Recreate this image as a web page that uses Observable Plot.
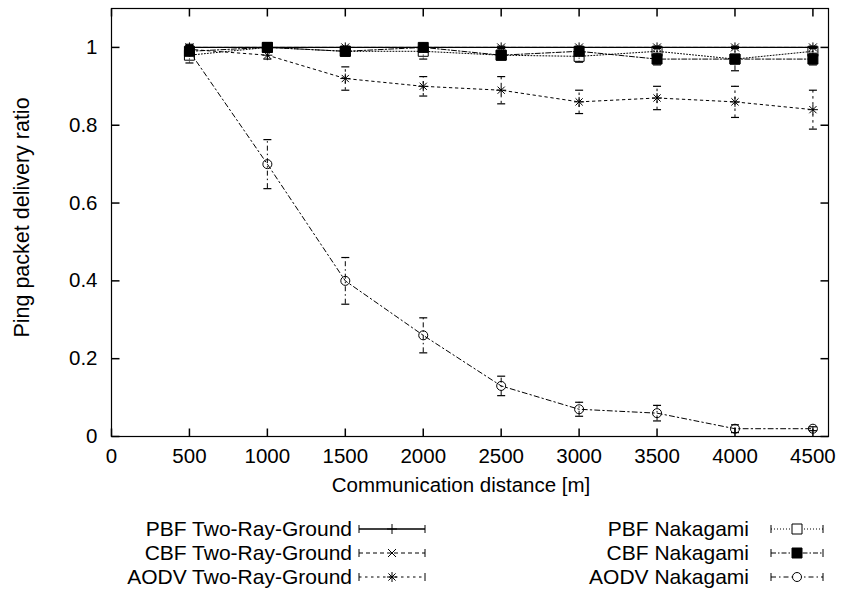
<!DOCTYPE html>
<html><head><meta charset="utf-8">
<script src="https://cdn.jsdelivr.net/npm/d3@7"></script>
<script src="https://cdn.jsdelivr.net/npm/@observablehq/plot@0.6"></script>
<style>
body{margin:0;background:#fff;}
#chart{width:841px;}
svg{display:block;}
</style>
</head><body><div id="chart"></div>
<script>
// ---- data ----
const distances = [500, 1000, 1500, 2000, 2500, 3000, 3500, 4000, 4500];
const xTicks = [0, 500, 1000, 1500, 2000, 2500, 3000, 3500, 4000, 4500];
const yTicks = [0, 0.2, 0.4, 0.6, 0.8, 1];
const seriesNames = ["PBF Two-Ray-Ground", "CBF Two-Ray-Ground", "AODV Two-Ray-Ground",
                     "PBF Nakagami", "CBF Nakagami", "AODV Nakagami"];
const pbfTrg     = [1.00, 1.00, 1.00, 1.00, 1.00, 1.00, 1.00, 1.00, 1.00];
const pbfTrgErr  = [0.005, 0, 0, 0, 0, 0, 0, 0, 0];
const cbfTrg     = [1.00, 1.00, 1.00, 1.00, 1.00, 1.00, 1.00, 1.00, 1.00];
const cbfTrgErr  = [0.008, 0.003, 0.003, 0.003, 0.003, 0.003, 0.003, 0.003, 0.003];
const aodvTrg    = [0.995, 0.98, 0.92, 0.90, 0.89, 0.86, 0.87, 0.86, 0.84];
const aodvTrgErr = [0.01, 0.01, 0.03, 0.025, 0.035, 0.03, 0.03, 0.04, 0.05];
const pbfNak     = [0.98, 1.00, 0.99, 0.99, 0.98, 0.977, 0.99, 0.97, 0.99];
const pbfNakErr  = [0.02, 0.005, 0.01, 0.02, 0.01, 0.015, 0.01, 0.01, 0.01];
const cbfNak     = [0.99, 1.00, 0.99, 1.00, 0.98, 0.99, 0.97, 0.97, 0.97];
const cbfNakErr  = [0.01, 0.003, 0.005, 0.005, 0.01, 0.005, 0.015, 0.03, 0.015];
const aodvNak    = [0.99, 0.70, 0.40, 0.26, 0.13, 0.07, 0.06, 0.02, 0.02];
const aodvNakErr = [0.01, 0.063, 0.06, 0.045, 0.025, 0.018, 0.02, 0.01, 0.005];
const xLabel = "Communication distance [m]";
const yLabel = "Ping packet delivery ratio";

const FONT = "'Liberation Sans', Arial, sans-serif";
const FS = 20.5;

// ---- symbols ----
const sym = f => ({draw(ctx){ f(ctx); }});
const markers = {
  plus: sym(c => {c.moveTo(-5,0); c.lineTo(5,0); c.moveTo(0,-5); c.lineTo(0,5);}),
  times: sym(c => {c.moveTo(-4,-4); c.lineTo(4,4); c.moveTo(-4,4); c.lineTo(4,-4);}),
  asterisk: sym(c => {c.moveTo(-5,0); c.lineTo(5,0); c.moveTo(0,-5); c.lineTo(0,5);
                      c.moveTo(-3.6,-3.6); c.lineTo(3.6,3.6); c.moveTo(-3.6,3.6); c.lineTo(3.6,-3.6);}),
  square: sym(c => {c.rect(-5,-5,10,10);}),
  circle: sym(c => {c.moveTo(4.5,0); c.arc(0,0,4.5,0,2*Math.PI);})
};
const capH = sym(c => {c.moveTo(-4,0); c.lineTo(4,0);});
const tickL = sym(c => {c.moveTo(0,0); c.lineTo(8,0);});
const tickR = sym(c => {c.moveTo(0,0); c.lineTo(-8,0);});
const tickB = sym(c => {c.moveTo(0,0); c.lineTo(0,-8);});
const tickT = sym(c => {c.moveTo(0,0); c.lineTo(0,8);});

const styles = [
  {values: pbfTrg, errs: pbfTrgErr, dash: null, marker: "plus", fill: "none", width: 1.4},
  {values: cbfTrg, errs: cbfTrgErr, dash: "4,3", marker: "times", fill: "none", width: 1},
  {values: aodvTrg, errs: aodvTrgErr, dash: "2.5,3.5", marker: "asterisk", fill: "none", width: 1},
  {values: pbfNak, errs: pbfNakErr, dash: "1,2", marker: "square", fill: "none", width: 1},
  {values: cbfNak, errs: cbfNakErr, dash: "5,2,1.5,2", marker: "square", fill: "black", width: 1},
  {values: aodvNak, errs: aodvNakErr, dash: "5,3,1.5,3", marker: "circle", fill: "none", width: 1}
];

const marks = [];
styles.forEach((s, i) => {
  const data = distances.map((d, j) => ({x: d, y: s.values[j], lo: s.values[j] - s.errs[j], hi: Math.min(s.values[j] + s.errs[j], 1.1)}));
  marks.push(Plot.line(data, {x: "x", y: "y", stroke: "black", strokeWidth: s.width, strokeDasharray: s.dash}));
  marks.push(Plot.ruleX(data, {x: "x", y1: "lo", y2: "hi", stroke: "black", strokeWidth: 1, strokeDasharray: s.dash}));
  marks.push(Plot.dot(data, {x: "x", y: "lo", symbol: capH, stroke: "black", strokeWidth: 1.2, fill: "none"}));
  marks.push(Plot.dot(data, {x: "x", y: "hi", symbol: capH, stroke: "black", strokeWidth: 1.2, fill: "none"}));
  marks.push(Plot.dot(data, {x: "x", y: "y", symbol: markers[s.marker], stroke: "black", strokeWidth: 1, fill: s.fill}));
});

const chart = Plot.plot({
  width: 841, height: 505,
  marginLeft: 111, marginRight: 13, marginTop: 8, marginBottom: 69,
  x: {domain: [0, 4600]},
  y: {domain: [0, 1.1]},
  style: {fontFamily: FONT, fontSize: FS + "px", color: "black", background: "white"},
  marks: [
    Plot.axisX({ticks: xTicks, tickSize: 0, tickPadding: 12, label: null, tickFormat: d => String(d), fontSize: FS}),
    Plot.axisY({ticks: yTicks, tickSize: 0, tickPadding: 14, label: null, tickFormat: d => String(d), fontSize: FS}),
    Plot.dot(yTicks, {y: d => d, frameAnchor: "left", symbol: tickL, stroke: "black"}),
    Plot.dot(yTicks, {y: d => d, frameAnchor: "right", symbol: tickR, stroke: "black"}),
    Plot.dot(xTicks, {x: d => d, frameAnchor: "bottom", symbol: tickB, stroke: "black"}),
    Plot.dot(xTicks, {x: d => d, frameAnchor: "top", symbol: tickT, stroke: "black"}),
    ...marks,
    Plot.frame({stroke: "black", strokeWidth: 1.2}),
    Plot.text([xLabel], {text: d => d, frameAnchor: "bottom", dy: 55, dx: -9, fontSize: FS}),
    Plot.text([yLabel], {text: d => d, frameAnchor: "left", textAnchor: "middle", dx: -89, dy: -5, rotate: -90, fontSize: 21.5})
  ]
});
document.getElementById("chart").appendChild(chart);

// ---- legend ----
const legend = d3.create("svg").attr("width", 841).attr("height", 86)
  .style("font-family", FONT).style("font-size", "21px");
const cols = [{textX: 352, x0: 359, x1: 425}, {textX: 749, x0: 771, x1: 823}];
seriesNames.forEach((name, i) => {
  const s = styles[i];
  const col = cols[Math.floor(i / 3)];
  const y = 24 + (i % 3) * 24;
  const g = legend.append("g");
  g.append("text").attr("x", col.textX).attr("y", y).attr("dy", "0.35em").attr("text-anchor", "end").text(name);
  g.append("line").attr("x1", col.x0).attr("x2", col.x1).attr("y1", y).attr("y2", y)
    .attr("stroke", "black").attr("stroke-width", s.width).attr("stroke-dasharray", s.dash);
  [col.x0, col.x1].forEach(x => g.append("line").attr("x1", x).attr("x2", x).attr("y1", y - 4).attr("y2", y + 4).attr("stroke", "black"));
  const p = d3.path(); markers[s.marker].draw(p);
  g.append("path").attr("d", p.toString()).attr("transform", `translate(${(col.x0 + col.x1) / 2},${y})`)
    .attr("stroke", "black").attr("fill", s.fill === "none" ? "white" : s.fill);
});
document.getElementById("chart").appendChild(legend.node());
</script>
</body></html>
